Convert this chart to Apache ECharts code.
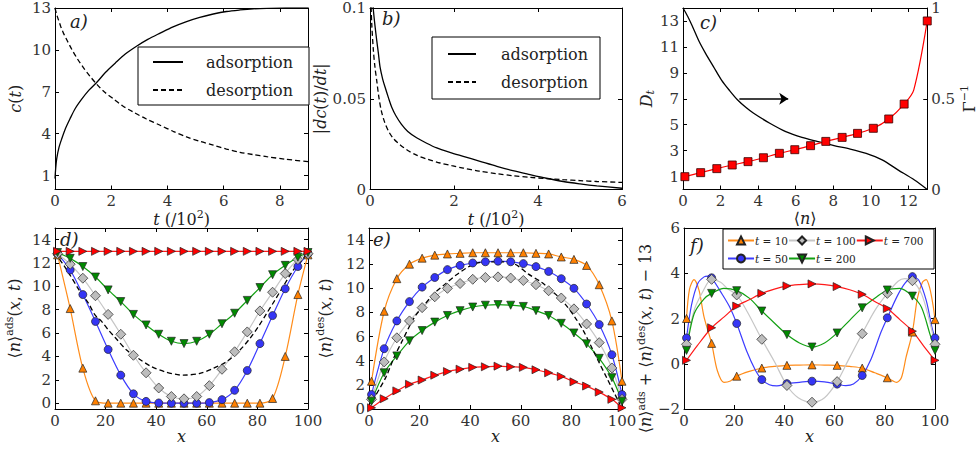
<!DOCTYPE html>
<html><head><meta charset="utf-8">
<script src="https://cdn.jsdelivr.net/npm/echarts@6/dist/echarts.min.js"></script>
<style>html,body{margin:0;padding:0;background:#fff}#c{width:978px;height:450px}</style>
</head><body><div id="c"></div>
<script>
// ---------------- DATA ----------------
// panel a: c(t)
const aAdsT = [0,0.02,0.06,0.14,0.24,0.38,0.53,0.72,0.95,1.2,1.48,1.8,2.14,2.5,2.9,3.3,3.74,4.2,4.68,5.15,5.63,6.1,6.58,7.05,7.53,8.2,9];
const aAdsV = [0.78,1.4,2.2,3.0,3.63,4.4,5.05,5.8,6.47,7.1,7.66,8.4,9.05,9.7,10.26,10.75,11.2,11.65,12.03,12.33,12.57,12.75,12.86,12.94,12.98,13.0,13.0];
const aDesT = [0,0.05,0.12,0.2,0.3,0.45,0.6,0.8,1.01,1.25,1.48,1.75,2.08,2.4,2.79,3.25,3.74,4.2,4.68,5.15,5.63,6.1,6.58,7.05,7.53,8.2,9];
const aDesV = [13,12.6,12.17,11.7,11.2,10.6,10.03,9.35,8.73,8.1,7.55,7.0,6.49,6.0,5.54,5.05,4.6,4.17,3.77,3.45,3.18,2.9,2.66,2.5,2.35,2.17,1.99];
// panel b: |dc/dt|
const bAdsT = [0.06,0.08,0.12,0.16,0.2,0.24,0.3,0.36,0.44,0.52,0.62,0.75,0.9,1.11,1.35,1.59,1.9,2.22,2.6,3.02,3.4,3.81,4.2,4.6,5.0,5.4,6];
const bAdsV = [0.105,0.0989,0.09,0.0822,0.075,0.0674,0.061,0.0563,0.0505,0.0452,0.0405,0.0359,0.032,0.0285,0.0255,0.0229,0.0205,0.0183,0.0157,0.0128,0.0104,0.0082,0.0062,0.0044,0.0031,0.002,0.0007];
const bDesT = [0.02,0.04,0.08,0.12,0.16,0.21,0.27,0.35,0.44,0.56,0.71,0.9,1.11,1.38,1.67,1.95,2.22,2.6,3.02,3.4,3.81,4.2,4.6,5.0,5.4,6];
const bDesV = [0.105,0.092,0.0767,0.067,0.06,0.051,0.0433,0.037,0.0322,0.028,0.0248,0.0215,0.0189,0.0166,0.0146,0.0131,0.0118,0.0101,0.0087,0.0076,0.0067,0.006,0.0054,0.0049,0.0044,0.0039];
// panel c
const cN  = [0.1,0.94,1.8,2.62,3.46,4.28,5.13,5.95,6.79,7.6,8.47,9.29,10.13,10.95,11.77,13.0];
const cD  = [0.99,1.3,1.61,1.89,2.15,2.45,2.79,3.07,3.38,3.71,4.02,4.33,4.72,5.44,6.59,13.0];
const cKnee = [12.28,7.67];
const cGN = [0,0.26,0.51,0.86,1.2,1.62,2.05,2.48,2.91,3.34,3.76,4.62,5.47,6.33,7.18,8.04,8.9,9.75,10.6,11.46,12.32,13.0];
const cGV = [1.0,0.952,0.897,0.815,0.75,0.677,0.603,0.545,0.493,0.453,0.42,0.365,0.319,0.287,0.264,0.242,0.223,0.199,0.163,0.107,0.052,0.0];
const arrowC = [[3,7],[5.6,7]];
// panels d, e: markers at x
const dX = [1,6,11,16,21,26,31,36,41,46,51,56,61,66,71,76,81,86,91,96,100];
const dT10  = [12.7,8.1,3.0,0.2,0,0,0,0,0,0,0,0,0,0,0,0,0,0.4,4.0,9.3,12.7];
const dT50  = [12.8,11.4,9.3,7.0,4.6,2.4,0.8,0.15,0.02,0,0,0,0.05,0.3,1.1,2.8,5.1,7.5,9.8,11.7,12.8];
const dT100 = [12.8,11.9,10.7,9.2,7.6,5.9,4.1,2.6,1.3,0.57,0.37,0.57,1.5,2.9,4.4,6.1,7.9,9.5,11.1,12.3,12.8];
const dT200 = [12.9,12.4,11.7,10.8,9.7,8.7,7.6,6.7,5.9,5.3,5.1,5.3,5.9,6.8,7.7,8.8,9.9,11.0,11.8,12.5,12.9];
const dT700 = [13,13,13,13,13,13,13,13,13,13,13,13,13,13,13,13,13,13,13,13,13];
const dDashX = [0,5,9.9,13.2,15.8,18.4,21.1,23.7,28.3,32.9,38.2,43.5,49.4,50.7,57.3,62.6,67.8,73.1,77.1,80.4,83.7,87.0,90.2,94.2,98.2,100];
const dDashY = [12.9,11.3,9.56,8.56,7.56,7.0,6.27,5.64,4.55,3.84,3.12,2.69,2.41,2.4,2.55,2.98,3.55,4.55,5.56,6.56,7.7,8.85,10.0,11.4,12.4,12.9];
const eT10  = [2.3,8.1,10.8,12.0,12.5,12.75,12.85,12.9,12.95,12.95,12.95,12.95,12.95,12.9,12.85,12.6,12.4,11.9,10.3,7.3,2.3];
const eT50  = [1.2,5.0,7.3,8.9,10.1,10.9,11.55,11.9,12.1,12.2,12.25,12.2,12.05,11.8,11.4,10.8,10.0,8.7,7.0,4.5,1.2];
const eT100 = [0.8,3.9,5.9,7.3,8.4,9.3,10.0,10.4,10.75,10.9,10.95,10.85,10.65,10.3,9.8,9.2,8.3,7.05,5.5,3.4,0.8];
const eT200 = [0.65,3.0,4.4,5.65,6.5,7.2,7.75,8.15,8.45,8.6,8.65,8.6,8.5,8.15,7.75,7.1,6.3,5.4,4.2,2.6,0.65];
const eT700 = [0.1,0.85,1.5,2.05,2.4,2.8,3.1,3.3,3.45,3.5,3.55,3.5,3.45,3.25,3.0,2.7,2.25,1.9,1.4,0.8,0.1];
const eDashX = [1.3,6.6,9.9,13.2,15.8,18.4,21.7,25.7,30.3,34.3,38.2,42.2,47,52.4,57.7,62.9,68.2,73.5,77.4,81.4,84.7,88.0,90.6,93.9,97.2,99.2];
const eDashY = [0.67,2.6,4.28,5.67,6.78,7.75,8.58,9.56,10.39,11.08,11.64,12.06,12.2,12.2,12.0,11.2,10.5,9.56,8.72,7.6,6.5,5.11,4.0,2.61,1.22,0.39];
// panel f: markers and curve shape points
const fX = [1,11,21,31,41,51,61,71,81,91,100];
const fT10  = [2.0,0.9,-0.55,-0.19,-0.07,-0.05,-0.07,-0.19,-0.62,1.4,1.95];
const fT50  = [1.14,3.8,1.78,-0.7,-0.88,-0.77,-0.9,-0.52,2.03,3.85,1.14];
const fT100 = [0.86,3.73,3.04,1.08,-0.96,-1.7,-0.79,1.33,3.11,3.67,0.86];
const fT200 = [0.59,3.11,3.23,2.33,1.29,0.74,1.36,2.47,3.26,2.99,0.59];
const fT700 = [0.15,1.59,2.55,3.11,3.44,3.53,3.41,3.07,2.44,1.44,0.15];
const fC10X = [2.2,4,6,8,13.3,15.9,18.5,26,36,46,56,66,76,84.8,86.6,88.5,93,95,96.5,98,99.2];
const fC10Y = [3.3,3.72,3.24,2.06,-0.31,-0.82,-0.76,-0.34,-0.12,-0.06,-0.06,-0.12,-0.4,-0.82,-0.62,0.3,2.9,3.6,3.72,3.3,2.6];
const fC50X = [3,5.5,8,9.5,14.5,18,25,28.5,34,37,46,56,64.5,67.5,74.5,78.5,85,88,93.5,96.5,98.8];
const fC50Y = [2.6,3.55,3.84,3.87,3.2,2.55,0.55,-0.3,-0.93,-0.98,-0.82,-0.8,-0.97,-0.9,0.2,1.4,3.0,3.55,3.7,2.8,1.6];
const fC100X = [4,7.3,14.6,17.5,25.2,36,45.5,56,65.4,76,85.3,88,94.6,97.8];
const fC100Y = [2.35,3.15,3.6,3.3,2.3,0.1,-1.5,-1.5,0.15,2.35,3.65,3.76,3.1,1.9];
const fC200X = [4,8,15.9,26,36,46,56,66,76.7,86,94.6,98];
const fC200Y = [2.2,2.87,3.33,2.9,1.8,0.92,0.92,1.92,2.95,3.33,2.5,1.3];
const fC700X = [5.3,16,26,36,46,56,66,76,86,95.5];
const fC700Y = [0.8,2.07,2.83,3.3,3.5,3.5,3.27,2.75,1.95,0.78];
// tick labels
const aXT = [0,2,4,6,8], aYT = [1,4,7,10,13];
const bXT = [0,2,4,6], bYT = [0,0.05,0.1];
const cXT = [0,2,4,6,8,10,12], cYT = [1,3,5,7,9,11,13], cRT = [0,0.5,1];
const dXT = [0,20,40,60,80,100], dYT = [0,2,4,6,8,10,12,14];
const fYT = [-2,0,2,4,6];
const tNames = ['t = 10','t = 50','t = 100','t = 200','t = 700'];

// ---------------- BUILD ----------------
const FONT = 'DejaVu Serif';
const pair = (xs, ys) => xs.map((x, i) => [x, ys[i]]);
const rich = {
  r: {fontSize:16, fontFamily:FONT, color:'#222', lineHeight:20},
  i: {fontSize:16, fontFamily:FONT, fontStyle:'italic', color:'#222', lineHeight:20},
  sup: {fontSize:11, fontFamily:FONT, color:'#222', verticalAlign:'top', lineHeight:11},
  sub: {fontSize:11, fontFamily:FONT, fontStyle:'italic', color:'#222', verticalAlign:'bottom', lineHeight:11}
};
const richTight = {
  r: {fontSize:16, fontFamily:FONT, color:'#222', lineHeight:15},
  i: {fontSize:16, fontFamily:FONT, fontStyle:'italic', color:'#222', lineHeight:15}
};
const grids = [
  {left:55, top:8, width:253, height:181.5},
  {left:370, top:8, width:252, height:181.5},
  {left:683, top:8, width:254, height:181.5},
  {left:55, top:228, width:253, height:181},
  {left:369, top:228, width:253, height:181},
  {left:684, top:228, width:251, height:181}
];
function axis(gi, min, max, ticks, showLabel, pos, name, gap, extra) {
  const o = {
    type:'value', gridIndex:gi, min:min, max:max, position:pos,
    axisLine:{show:true, onZero:false, lineStyle:{color:'#000', width:1}},
    axisTick:{show:true, inside:true, length:4, customValues:ticks, lineStyle:{color:'#000', width:1}},
    axisLabel:{show:showLabel, customValues:ticks, color:'#333', fontFamily:FONT, fontSize:15, margin:4,
      formatter: v => String(v).replace('-', '\u2212')},
    splitLine:{show:false}, axisPointer:{show:false}
  };
  if (name) { o.name = name; o.nameLocation = 'middle'; o.nameGap = gap; o.nameTextStyle = Object.assign({rich:rich}, extra || {}); }
  return o;
}
const panels = [
  {x:[0,9], xt:aXT, y:[0,13], yt:aYT, xn:'{i|t}{r| (/10}{sup|2}{r|)}', xg:12, yn:'{i|c}{r|(}{i|t}{r|)}', yg:30},
  {x:[0,6], xt:bXT, y:[0,0.1], yt:bYT, xn:'{i|t}{r| (/10}{sup|2}{r|)}', xg:12, yn:'{r||}{i|dc}{r|(}{i|t}{r|)/}{i|dt}{r||}', yg:32},
  {x:[0,13], xt:cXT, y:[0,14], yt:cYT, xn:'{r|\u27e8}{i|n}{r|\u27e9}', xg:21, xextra:{rich:richTight}, yn:'{i|D}{sub|t}', yg:25},
  {x:[0,100], xt:dXT, y:[-0.5,15], yt:dYT, xn:'{i|x}', xg:15, yn:'{r|\u27e8}{i|n}{r|\u27e9}{sup|ads}{r|(}{i|x}{r|, }{i|t}{r|)}', yg:31},
  {x:[0,100], xt:dXT, y:[0,15], yt:dYT, xn:'{i|x}', xg:15, yn:'{r|\u27e8}{i|n}{r|\u27e9}{sup|des}{r|(}{i|x}{r|, }{i|t}{r|)}', yg:34},
  {x:[0,100], xt:dXT, y:[-2,6], yt:fYT, xn:'{i|x}', xg:15, yn:'{r|\u27e8}{i|n}{r|\u27e9}{sup|ads}{r| + \u27e8}{i|n}{r|\u27e9}{sup|des}{r|(}{i|x}{r|, }{i|t}{r|) \u2212 13}', yg:26, yextra:{padding:[0,40,0,0]}}
];
const xAxes = [], yAxes = [];
panels.forEach((p, gi) => {
  xAxes.push(axis(gi, p.x[0], p.x[1], p.xt, true, 'bottom', p.xn, p.xg, p.xextra));
  xAxes.push(axis(gi, p.x[0], p.x[1], p.xt, false, 'top'));
  yAxes.push(axis(gi, p.y[0], p.y[1], p.yt, true, 'left', p.yn, p.yg, p.yextra));
  if (gi === 2) yAxes.push(axis(gi, 0, 1, cRT, true, 'right', '{r|\u0393}{sup|\u22121}', 22));
  else yAxes.push(axis(gi, p.y[0], p.y[1], p.yt, false, 'right'));
});

const downTri = 'path://M0,0L10,0L5,9Z';
const rightTri = 'path://M0,0L9,5L0,10Z';
const ST = {
  't = 10':  {sym:'triangle', size:8, fill:'#ff8000', line:'#ff8c1a'},
  't = 50':  {sym:'circle', size:8, fill:'#3535f5', line:'#3c3cff'},
  't = 100': {sym:'diamond', size:10, fill:'#bdbdbd', line:'#c6c6c6'},
  't = 200': {sym:downTri, size:8, fill:'#008a00', line:'#12a012'},
  't = 700': {sym:rightTri, size:8, fill:'#ff0000', line:'#ff1a1a'}
};
const series = [];
function blackLine(name, xi, yi, data, dashed) {
  series.push({type:'line', name:name, xAxisIndex:xi, yAxisIndex:yi, data:data, symbol:'none', smooth:0.3,
    lineStyle:{color:'#000', width:1.3, type: dashed ? [5,3] : 'solid'}, itemStyle:{color:'#000'}, z:3});
}
blackLine('adsorption', 0, 0, pair(aAdsT, aAdsV), false);
blackLine('desorption', 0, 0, pair(aDesT, aDesV), true);
blackLine('adsorption', 2, 2, pair(bAdsT, bAdsV), false);
blackLine('desorption', 2, 2, pair(bDesT, bDesV), true);
// panel c
const cRed = pair(cN, cD).map(v => ({value:v}));
cRed.splice(cRed.length - 1, 0, {value:cKnee, symbol:'none'});
series.push({type:'line', name:'Dt', xAxisIndex:4, yAxisIndex:4, data:cRed, smooth:0.3,
  symbol:'rect', symbolSize:8, lineStyle:{color:'#ff0000', width:1.2},
  itemStyle:{color:'#ff0000', borderColor:'#3a0000', borderWidth:0.8}, z:4,
  markLine:{silent:true, symbol:['none','arrow'], symbolSize:9, label:{show:false},
    lineStyle:{color:'#000', width:1.5, type:'solid'},
    data:[[{coord:arrowC[0]},{coord:arrowC[1]}]]}});
blackLine('Gamma', 4, 5, pair(cGN, cGV), false);
// panels d and e
function tSeries(name, xi, data) {
  const s = ST[name];
  series.push({type:'line', name:name, xAxisIndex:xi, yAxisIndex:xi, data:data, smooth:0.3,
    symbol:s.sym, symbolSize:s.size, lineStyle:{color:s.line, width:1.2},
    itemStyle:{color:s.fill, borderColor:'#222', borderWidth:0.7}, z:3});
}
const dSets = [dT10, dT50, dT100, dT200, dT700];
const eSets = [eT10, eT50, eT100, eT200, eT700];
tNames.forEach((n, k) => tSeries(n, 6, pair(dX, dSets[k])));
blackLine('dDash', 6, 6, pair(dDashX, dDashY), true);
tNames.forEach((n, k) => tSeries(n, 8, pair(dX, eSets[k])));
blackLine('eDash', 8, 8, pair(eDashX, eDashY), true);
// panel f: markers merged with curve-shape points (no symbol)
const fSets = [fT10, fT50, fT100, fT200, fT700];
const fCX = [fC10X, fC50X, fC100X, fC200X, fC700X];
const fCY = [fC10Y, fC50Y, fC100Y, fC200Y, fC700Y];
tNames.forEach((n, k) => {
  const pts = pair(fX, fSets[k]).map(v => ({value:v}))
    .concat(pair(fCX[k], fCY[k]).map(v => ({value:v, symbol:'none'})));
  pts.sort((a, b) => a.value[0] - b.value[0]);
  tSeries(n, 10, pts);
});

const legTxt = {fontFamily:FONT, fontSize:16, color:'#222'};
const fRich = {i:{fontFamily:FONT, fontSize:10.5, fontStyle:'italic', color:'#222'}, r:{fontFamily:FONT, fontSize:10.5, color:'#222'}};
const fFmt = n => '{i|t}{r|' + n.slice(1) + '}';
const legends = [
  {left:138, top:47, orient:'vertical', data:['adsorption','desorption'], itemWidth:30, itemHeight:14, itemGap:12,
   padding:[7,16,7,14], borderColor:'#000', borderWidth:1, backgroundColor:'#fff', selectedMode:false,
   itemStyle:{opacity:0}, textStyle:Object.assign({padding:[0,0,0,18]}, legTxt)},
  {left:432, top:37, orient:'vertical', data:['adsorption','desorption'], itemWidth:28, itemHeight:14, itemGap:12,
   padding:[9,12,9,15], borderColor:'#000', borderWidth:1, backgroundColor:'#fff', selectedMode:false,
   itemStyle:{opacity:0}, textStyle:Object.assign({padding:[0,0,0,20]}, legTxt)},
  {left:727, top:235, orient:'horizontal', data:['t = 10','t = 100','t = 700'], itemWidth:26, itemHeight:10, itemGap:0,
   padding:0, selectedMode:false, formatter:fFmt, textStyle:{rich:fRich, padding:[0,0,0,-4]}, z:20},
  {left:727, top:253, orient:'horizontal', data:['t = 50','t = 200'], itemWidth:26, itemHeight:10, itemGap:0,
   padding:0, selectedMode:false, formatter:fFmt, textStyle:{rich:fRich, padding:[0,0,0,-4]}, z:20}
];
const lbl = (t, x, y) => ({type:'text', left:x, top:y, z:30,
  style:{text:t, fontFamily:FONT, fontSize:18, fontStyle:'italic', fill:'#222'}});
const graphic = [
  {type:'rect', z:10, shape:{x:723, y:229, width:211, height:40}, style:{fill:'#fff', stroke:'#000', lineWidth:1}},
  lbl('a)', 70, 12), lbl('b)', 382, 9), lbl('c)', 700, 13),
  lbl('d)', 60, 230), lbl('e)', 373, 230), lbl('f)', 690, 236)
];

const chart = echarts.init(document.getElementById('c'), null, {renderer:'svg'});
chart.setOption({
  animation:false, backgroundColor:'#fff',
  grid:grids, xAxis:xAxes, yAxis:yAxes, series:series, legend:legends, graphic:graphic
});
</script></body></html>
